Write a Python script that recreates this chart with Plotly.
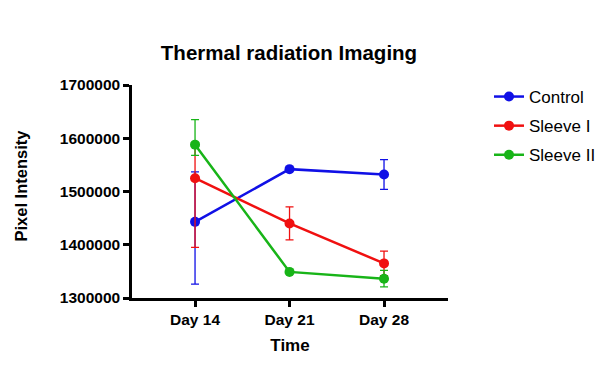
import plotly.graph_objects as go

days = [14, 21, 28]
day_labels = ["Day 14", "Day 21", "Day 28"]

control = [1443000, 1542000, 1532000]
control_err_plus = [94000, 0, 28000]
control_err_minus = [117000, 0, 28000]

sleeve1 = [1525000, 1440000, 1365000]
sleeve1_err_plus = [66000, 31000, 23000]
sleeve1_err_minus = [130000, 31000, 23000]

sleeve2 = [1588000, 1349000, 1336000]
sleeve2_err_plus = [47000, 0, 16000]
sleeve2_err_minus = [20000, 0, 15000]

y_ticks = [1300000, 1400000, 1500000, 1600000, 1700000]

series = [
    ("Control", control, control_err_plus, control_err_minus, "#1010e6"),
    ("Sleeve I", sleeve1, sleeve1_err_plus, sleeve1_err_minus, "#f01010"),
    ("Sleeve II", sleeve2, sleeve2_err_plus, sleeve2_err_minus, "#18b418"),
]

W, H = 598, 373
L, R, T, B = 132, 150, 85, 75
PW, PH = W - L - R, H - T - B

fig = go.Figure()
for i, (name, vals, ep, em, col) in enumerate(series):
    fig.add_trace(go.Scatter(
        x=days, y=vals, name=name, mode="lines+markers",
        legendgroup=f"g{i}",
        line=dict(color=col, width=2.5),
        marker=dict(color=col, size=10, symbol="circle"),
        error_y=dict(type="data", symmetric=False, array=ep, arrayminus=em,
                     color=col, thickness=1.3, width=4),
    ))

fig.update_layout(
    width=W, height=H,
    paper_bgcolor="white", plot_bgcolor="white",
    margin=dict(l=L, r=R, t=T, b=B, autoexpand=False),
    font=dict(family="Liberation Sans, Arial, sans-serif", color="black"),
    title=dict(text="<b>Thermal radiation Imaging</b>", x=289 / W, xref="container",
               xanchor="center", y=1 - 53 / H, yanchor="middle",
               font=dict(size=20.5, color="black")),
    legend=dict(x=(489 - L) / PW, xref="paper", xanchor="left",
                y=1 + (T - 79) / PH, yref="paper", yanchor="top",
                traceorder="grouped", tracegroupgap=4,
                font=dict(size=17, color="black"), bgcolor="rgba(0,0,0,0)",
                itemwidth=30),
    showlegend=True,
    annotations=[dict(
        text="<b>Pixel Intensity</b>", textangle=-90, showarrow=False,
        xref="paper", yref="paper", x=(20 - L) / PW, y=1 - (185.5 - T) / PH,
        xanchor="center", yanchor="middle",
        font=dict(size=16.5, color="black"),
    )],
)

fig.update_xaxes(
    range=[9.33, 32.74], tickvals=days, ticktext=[f"<b>{t}</b>" for t in day_labels],
    showline=True, linecolor="black", linewidth=2.5, showgrid=False, zeroline=False,
    ticks="outside", ticklen=6, tickwidth=2.5, tickcolor="black",
    tickfont=dict(size=15.5, color="black"),
    title=dict(text="<b>Time</b>", font=dict(size=17, color="black"), standoff=12),
)
fig.update_yaxes(
    range=[1300000, 1700000], tickvals=y_ticks,
    ticktext=[f"<b>{v}</b>" for v in y_ticks],
    showline=True, linecolor="black", linewidth=2.5, showgrid=False, zeroline=False,
    ticks="outside", ticklen=6, tickwidth=2.5, tickcolor="black",
    tickfont=dict(size=15.5, color="black"),
)

fig.write_html("out.html", config={"displayModeBar": False},
               post_script="document.body.style.margin='0';")
